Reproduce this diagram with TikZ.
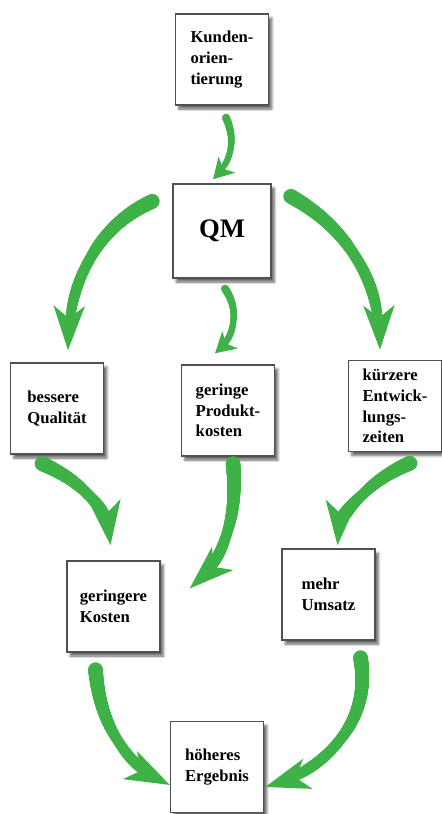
\documentclass[tikz,border=0pt]{standalone}
\usepackage{fontspec}
\setmainfont{Liberation Serif}
\usetikzlibrary{arrows.meta,decorations.markings,shadows.blur}
\definecolor{arrowgreen}{RGB}{62, 178, 70}
\definecolor{boxgrey}{RGB}{80, 80, 80}

\tikzset{
  box/.style={draw=boxgrey, line width=1pt, fill=white,
    minimum width=69.75pt, minimum height=68.25pt, inner sep=2pt,
    align=left, font=\bfseries\fontsize{12.5}{15.5}\selectfont,
    blur shadow={shadow xshift=2.5pt, shadow yshift=-3pt,
      shadow blur steps=6, shadow opacity=60}},
  taper/.style n args={3}{postaction={decorate, decoration={markings,
    mark=between positions 0 and -#3 step 0.5pt with {%
      \pgfmathsetmacro\rr{#1-(#1-#2)*\pgfkeysvalueof{/pgf/decoration/mark info/distance from start}/\pgfdecoratedpathlength}%
      \fill[arrowgreen] (0,0) circle (\rr pt);}}}},
  bigarrow/.style={draw=arrowgreen, line width=5pt,
    -{Stealth[length=33pt, width=23pt, inset=9pt]}, taper={5.5}{2.5}{24pt}},
  smallarrow/.style={draw=arrowgreen, line width=3pt,
    -{Stealth[length=15pt, width=17pt, inset=4pt]}, taper={3}{1.5}{11pt}}
}

\begin{document}
\begin{tikzpicture}[x=0.75pt, y=-0.75pt]
\useasboundingbox (0,0) rectangle (442,814);

% Boxes
\node[box] (kunden) at (222,59.5) {Kunden-\\orien-\\tierung};
\node[box, minimum width=73.5pt, minimum height=70.5pt,
  font=\bfseries\fontsize{20}{24}\selectfont] (qm) at (222,231) {QM};
\node[box] (qual) at (57,408.5) {bessere\\Qualität};
\node[box] (prod) at (228,410.5) {geringe\\Produkt-\\kosten};
\node[box] (zeit) at (395,406) {kürzere\\Entwick-\\lungs-\\zeiten};
\node[box] (kosten) at (113.5,606.5) {geringere\\Kosten};
\node[box] (umsatz) at (328.5,594.5) {mehr\\Umsatz};
\node[box] (ergebnis) at (217,767) {höheres\\Ergebnis};

% Arrows from the top down
\draw[smallarrow] ([shift={(4,12)}]kunden.south)
  .. controls +(10,23) and +(19,-20) .. ([shift={(-9,-4)}]qm.north);
\draw[bigarrow] ([shift={(-20,18)}]qm.north west)
  .. controls +(-55,25) and +(2,-72) .. ([shift={(11,-12)}]qual.north);
\draw[smallarrow] ([shift={(3,10)}]qm.south)
  .. controls +(15,22) and +(20,-18) .. ([shift={(-13,-11)}]prod.north);
\draw[bigarrow] ([shift={(19,13)}]qm.north east)
  .. controls +(50,28) and +(-2,-80) .. ([shift={(-15,-10)}]zeit.north);

% Arrows to the middle row
\draw[bigarrow] ([shift={(-15,9)}]qual.south)
  .. controls +(40,18) and +(-5,-40) .. ([shift={(-3,-15)}]kosten.north);
\draw[bigarrow] ([shift={(5,7)}]prod.south)
  .. controls +(5,55) and +(35,-32) .. ([shift={(29,-18)}]kosten.east);
\draw[bigarrow] ([shift={(15,11)}]zeit.south)
  .. controls +(-40,17) and +(3,-35) .. ([shift={(9,-3)}]umsatz.north);

% Arrows to the result
\draw[bigarrow] ([shift={(-18,17)}]kosten.south)
  .. controls +(5,62) and +(-40,-20) .. ([shift={(0,18)}]ergebnis.west);
\draw[bigarrow] ([shift={(32,17)}]umsatz.south)
  .. controls +(12,70) and +(55,-17) .. ([shift={(1,20)}]ergebnis.east);
\end{tikzpicture}
\end{document}
